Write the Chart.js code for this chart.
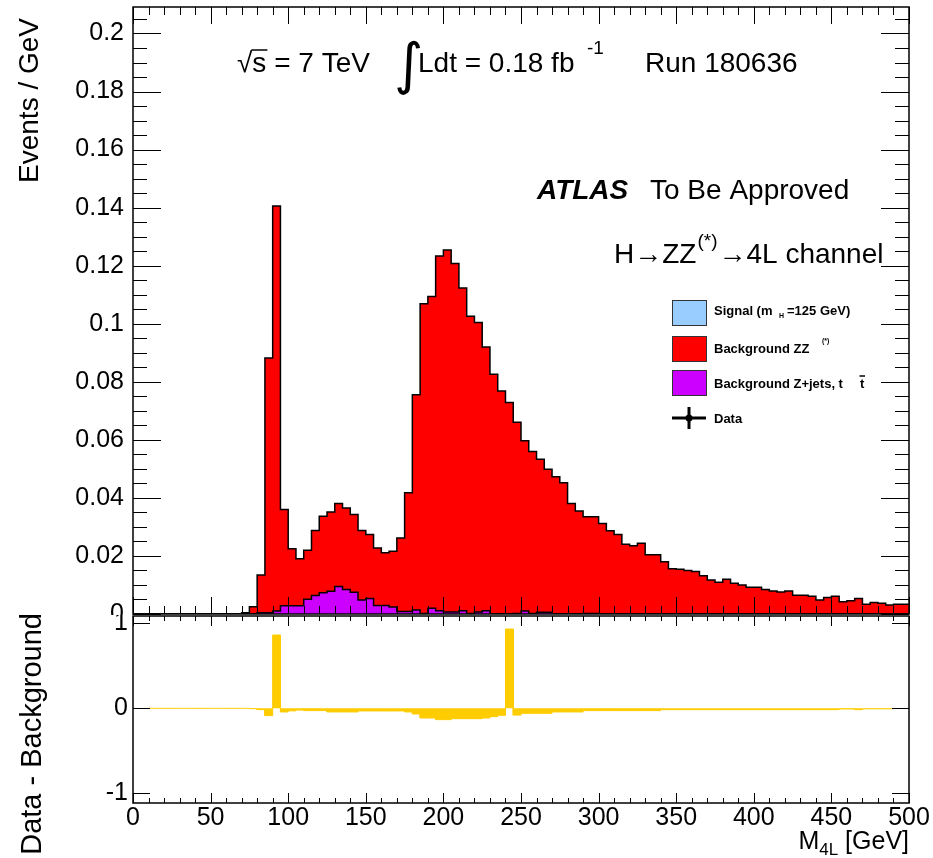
<!DOCTYPE html>
<html><head><meta charset="utf-8">
<script src="https://cdn.jsdelivr.net/npm/chart.js@4.4.1/dist/chart.umd.min.js"></script>
<style>
html,body{margin:0;padding:0;background:#fff;}
#wrap{position:relative;width:933px;height:858px;overflow:hidden;background:#fff}
#top{position:absolute;left:0;top:0;width:933px;height:615px}
#bot{position:absolute;left:0;top:615px;width:933px;height:243px}
canvas{display:block}
</style></head><body>
<div id="wrap">
<div id="top"><canvas id="c1" width="933" height="615"></canvas></div>
<div id="bot"><canvas id="c2" width="933" height="243"></canvas></div>
</div>
<script>
// ---------------- DATA ----------------
// M4L bin edges in GeV (5 GeV bins from 0 to 500)
const massBinEdges = Array.from({length: 101}, (_, i) => i * 5);

// Stack envelope: Background ZZ(*) stacked on Z+jets/ttbar (Events / GeV), one value per bin
const stackZZplusZjets = [
  0,0,0,0,0,0,0,0,0,0,
  0,0,0,0,0.0004,0.0025,0.0134,0.0882,0.1406,0.0360,
  0.0225,0.0190,0.0220,0.0288,0.0337,0.0351,0.0381,0.0365,0.0343,0.0288,
  0.0274,0.0227,0.0211,0.0216,0.0262,0.0418,0.0755,0.1069,0.1094,0.1233,
  0.1254,0.1208,0.1123,0.1026,0.1004,0.0920,0.0826,0.0768,0.0729,0.0661,
  0.0597,0.0560,0.0533,0.0499,0.0473,0.0452,0.0381,0.0355,0.0335,0.0335,
  0.0312,0.0287,0.0274,0.0240,0.0235,0.0244,0.0204,0.0204,0.0180,0.0156,
  0.0154,0.0150,0.0146,0.0132,0.0117,0.0109,0.0120,0.0106,0.0100,0.0092,
  0.0092,0.0084,0.0079,0.0076,0.0079,0.0065,0.0065,0.0061,0.0048,0.0057,
  0.0061,0.0042,0.0046,0.0053,0.0034,0.0040,0.0037,0.0031,0.0034,0.0034
];

// Background Z+jets, ttbar (Events / GeV)
const zjetsTtbar = [
  0,0,0,0,0,0,0,0,0,0,
  0,0,0,0,0,0,0.0004,0.0004,0.0010,0.0028,
  0.0028,0.0028,0.0051,0.0064,0.0073,0.0078,0.0095,0.0084,0.0075,0.0048,
  0.0053,0.0029,0.0029,0.0024,0.0009,0.0009,0.0014,0.0002,0.0020,0.0011,
  0.0007,0.0007,0.0011,0.0002,0.0007,0.0011,0,0.0001,0,0.0002,
  0.0010,0.0002,0.0006,0.0006,0,0,0.0001,0.0001,0.0002,0.0002,
  0,0,0,0,0,0,0,0,0,0,
  0,0,0,0,0,0,0,0,0,0,
  0,0,0,0,0,0,0,0,0,0,
  0,0,0,0,0,0,0,0,0,0
];

// Data - Background (lower panel)
const dataMinusBackground = [
  null,null,0,0,0,0,0,0,0,0,
  0,0,0,0,0,-0.004,-0.016,-0.086,0.862,-0.043,
  -0.030,-0.020,-0.027,-0.027,-0.027,-0.043,-0.043,-0.043,-0.043,-0.031,
  -0.031,-0.031,-0.031,-0.031,-0.031,-0.043,-0.067,-0.114,-0.114,-0.133,
  -0.133,-0.122,-0.122,-0.122,-0.122,-0.114,-0.098,-0.082,0.933,-0.080,
  -0.059,-0.059,-0.059,-0.059,-0.043,-0.043,-0.043,-0.043,-0.027,-0.027,
  -0.027,-0.027,-0.027,-0.027,-0.027,-0.027,-0.027,-0.027,-0.016,-0.016,
  -0.016,-0.016,-0.016,-0.016,-0.016,-0.016,-0.016,-0.016,-0.016,-0.016,
  -0.016,-0.016,-0.016,-0.016,-0.016,-0.016,-0.016,-0.016,-0.016,-0.016,
  -0.016,-0.008,-0.008,-0.016,-0.006,-0.006,-0.006,-0.006,null,null
];

// Tick labels
const xTickValues = [0,50,100,150,200,250,300,350,400,450,500];
const xTickLabels = ['0','50','100','150','200','250','300','350','400','450','500'];
const yTickValuesMain = [0,0.02,0.04,0.06,0.08,0.1,0.12,0.14,0.16,0.18,0.2];
const yTickLabelsMain = ['0','0.02','0.04','0.06','0.08','0.1','0.12','0.14','0.16','0.18','0.2'];
const yTickValuesRatio = [-1,0,1];
const yTickLabelsRatio = ['-1','0','1'];

// ---------------- HELPERS ----------------
const FONT = '"Liberation Sans", Arial, Helvetica, sans-serif';
function histPoints(values) {
  const pts = [];
  values.forEach((v, i) => {
    if (v === null) return;
    pts.push({x: massBinEdges[i], y: v});
    pts.push({x: massBinEdges[i + 1], y: v});
  });
  return pts;
}

function frameTicks(chart, o) {
  const {ctx, chartArea: a} = chart;
  const xs = chart.scales.x, ys = chart.scales.y;
  ctx.save();
  ctx.strokeStyle = '#000';
  ctx.lineWidth = 1;
  ctx.beginPath();
  const nX = Math.round((xs.max - xs.min) / o.xMinorStep);
  for (let k = 0; k <= nX; k++) {
    const v = xs.min + k * o.xMinorStep;
    const px = Math.round(xs.getPixelForValue(v)) + 0.5;
    const r = v / o.xMajorStep;
    const major = Math.abs(r - Math.round(r)) < 1e-6;
    const L = major ? o.xMajLen : o.xMinLen;
    ctx.moveTo(px, a.bottom); ctx.lineTo(px, a.bottom - L);
    ctx.moveTo(px, a.top); ctx.lineTo(px, a.top + L);
  }
  for (let v = o.yStart; v <= ys.max + 1e-9; v += o.yMinorStep) {
    const py = Math.round(ys.getPixelForValue(v)) + 0.5;
    const r = v / o.yMajorStep;
    const major = Math.abs(r - Math.round(r)) < 1e-6;
    const L = major ? o.yMajLen : o.yMinLen;
    ctx.moveTo(a.left, py); ctx.lineTo(a.left + L, py);
    ctx.moveTo(a.right, py); ctx.lineTo(a.right - L, py);
  }
  ctx.stroke();
  ctx.lineWidth = 1.5;
  ctx.strokeRect(a.left, a.top, a.right - a.left, a.bottom - a.top);
  ctx.restore();
}

// ---------------- TOP PANEL ----------------
const topDecor = {
  id: 'topDecor',
  afterDatasetsDraw(chart) {
    frameTicks(chart, {xMinorStep: 10, xMajorStep: 50, xMajLen: 17, xMinLen: 8,
                       yStart: 0, yMinorStep: 0.005, yMajorStep: 0.02, yMajLen: 28, yMinLen: 14});
  },
  afterDraw(chart) {
    const ctx = chart.ctx;
    ctx.save();
    ctx.fillStyle = '#000';
    ctx.strokeStyle = '#000';
    ctx.textBaseline = 'alphabetic';
    ctx.textAlign = 'left';
    // sqrt(s) = 7 TeV
    ctx.font = '28px ' + FONT;
    let x = 237;
    const by = 72;
    ctx.fillText('\u221A', x, by);
    const sx = x + ctx.measureText('\u221A').width;
    ctx.fillText('s', sx, by);
    const ws = ctx.measureText('s').width;
    ctx.lineWidth = 1.5;
    ctx.beginPath(); ctx.moveTo(sx - 1, by - 22); ctx.lineTo(sx + ws + 1, by - 22); ctx.stroke();
    ctx.fillText(' = 7 TeV', sx + ws, by);
    // integral
    ctx.font = '56px "DejaVu Sans", sans-serif';
    ctx.fillText('\u222B', 394, 83);
    ctx.font = '28px ' + FONT;
    ctx.fillText('Ldt = 0.18 fb', 418, by);
    ctx.font = '19px ' + FONT;
    ctx.fillText('-1', 587, 54);
    ctx.font = '28px ' + FONT;
    ctx.fillText('Run 180636', 645, by);
    // ATLAS To Be Approved
    ctx.font = 'italic bold 28px ' + FONT;
    ctx.fillText('ATLAS', 537, 199);
    ctx.font = '28px ' + FONT;
    ctx.fillText('To Be Approved', 650, 199);
    // H -> ZZ(*) -> 4L channel
    let hx = 614; const hy = 263;
    ctx.fillText('H\u2192ZZ', hx, hy);
    hx += ctx.measureText('H\u2192ZZ').width + 1;
    ctx.font = '19px ' + FONT;
    ctx.fillText('(*)', hx, 247);
    hx += ctx.measureText('(*)').width + 1;
    ctx.font = '28px ' + FONT;
    ctx.fillText('\u21924L channel', hx, hy);

    // Legend
    const bx = 672, bw = 34, bh = 25;
    const boxes = [[300, '#99ccff'], [336, '#ff0000'], [370, '#cc00ff']];
    ctx.lineWidth = 1;
    boxes.forEach(([yy, col]) => {
      ctx.fillStyle = col; ctx.fillRect(bx, yy, bw, bh);
      ctx.strokeStyle = '#333'; ctx.strokeRect(bx + 0.5, yy + 0.5, bw, bh);
    });
    ctx.fillStyle = '#000';
    ctx.font = 'bold 13px ' + FONT;
    ctx.fillText('Signal (m', 714, 315);
    ctx.font = 'bold 7px ' + FONT;
    ctx.fillText('H', 779, 318);
    ctx.font = 'bold 13px ' + FONT;
    ctx.fillText('=125 GeV)', 787, 315);
    ctx.fillText('Background ZZ', 714, 353);
    ctx.font = 'bold 7px ' + FONT;
    ctx.fillText('(*)', 822, 343);
    ctx.font = 'bold 13px ' + FONT;
    ctx.fillText('Background Z+jets, t', 714, 388);
    ctx.fillText('t', 860, 388);
    ctx.lineWidth = 1.5; ctx.strokeStyle = '#000';
    ctx.beginPath(); ctx.moveTo(859.5, 376); ctx.lineTo(865, 376); ctx.stroke();
    ctx.fillText('Data', 714, 423);
    ctx.lineWidth = 3;
    ctx.beginPath();
    ctx.moveTo(672, 418); ctx.lineTo(706, 418);
    ctx.moveTo(689, 407); ctx.lineTo(689, 429);
    ctx.stroke();
    ctx.beginPath(); ctx.arc(689, 418, 3.5, 0, Math.PI * 2); ctx.fill();

    // y title
    ctx.save();
    ctx.font = '28px ' + FONT;
    ctx.translate(38, 18);
    ctx.rotate(-Math.PI / 2);
    ctx.textAlign = 'right';
    ctx.fillText('Events / GeV', 0, 0);
    ctx.restore();
    ctx.restore();
  }
};

new Chart(document.getElementById('c1'), {
  type: 'line',
  data: {
    datasets: [
      {
        label: 'Background Z+jets, tt',
        data: histPoints(zjetsTtbar),
        borderColor: '#000', borderWidth: 1.5, backgroundColor: '#cc00ff',
        fill: 'origin', pointRadius: 0, tension: 0
      },
      {
        label: 'Background ZZ(*)',
        data: histPoints(stackZZplusZjets),
        borderColor: '#000', borderWidth: 1.5, backgroundColor: '#ff0000',
        fill: 'origin', pointRadius: 0, tension: 0
      }
    ]
  },
  options: {
    responsive: false, animation: false, events: [],
    layout: {padding: {left: 0, right: 24, top: 7, bottom: 1}, autoPadding: false},
    plugins: {legend: {display: false}, tooltip: {enabled: false}},
    scales: {
      x: {type: 'linear', min: 0, max: 500, display: false},
      y: {
        type: 'linear', min: 0, max: 0.20913,
        afterFit(s) { s.width = 133; s.paddingTop = 0; s.paddingBottom = 0; },
        afterBuildTicks(s) { s.ticks = yTickValuesMain.map(v => ({value: v})); },
        ticks: {
          callback: (v, i) => yTickLabelsMain[i], autoSkip: false,
          font: {family: FONT, size: 25}, color: '#000', padding: 9
        },
        grid: {display: false, drawTicks: false},
        border: {display: false}
      }
    }
  },
  plugins: [topDecor]
});

// ---------------- BOTTOM PANEL ----------------
const botDecor = {
  id: 'botDecor',
  afterDatasetsDraw(chart) {
    frameTicks(chart, {xMinorStep: 10, xMajorStep: 50, xMajLen: 10, xMinLen: 5,
                       yStart: -1, yMinorStep: 1, yMajorStep: 1, yMajLen: 17, yMinLen: 17});
  },
  afterDraw(chart) {
    const ctx = chart.ctx;
    ctx.save();
    ctx.fillStyle = '#000';
    ctx.textBaseline = 'alphabetic';
    // y title
    ctx.save();
    ctx.font = '29px ' + FONT;
    ctx.translate(41, -2);
    ctx.rotate(-Math.PI / 2);
    ctx.textAlign = 'right';
    ctx.fillText('Data - Background', 0, 0);
    ctx.restore();
    // x title  M_4L [GeV]
    ctx.textAlign = 'left';
    ctx.font = '25px ' + FONT;
    const wM = ctx.measureText('M').width;
    const wG = ctx.measureText(' [GeV]').width;
    ctx.font = '17px ' + FONT;
    const w4 = ctx.measureText('4L').width;
    let x0 = 909 - wM - w4 - wG;
    const by = 234;
    ctx.font = '25px ' + FONT;
    ctx.fillText('M', x0, by);
    ctx.font = '17px ' + FONT;
    ctx.fillText('4L', x0 + wM, by + 6);
    ctx.font = '25px ' + FONT;
    ctx.fillText(' [GeV]', x0 + wM + w4, by);
    ctx.restore();
  }
};

new Chart(document.getElementById('c2'), {
  type: 'line',
  data: {
    datasets: [{
      label: 'Data - Background',
      data: histPoints(dataMinusBackground),
      borderColor: '#ffcc00', borderWidth: 1, backgroundColor: '#ffcc00',
      fill: 'origin', pointRadius: 0, tension: 0
    }]
  },
  options: {
    responsive: false, animation: false, events: [],
    layout: {padding: {left: 0, right: 24, top: 1, bottom: 0}, autoPadding: false},
    plugins: {legend: {display: false}, tooltip: {enabled: false}},
    scales: {
      x: {
        type: 'linear', min: 0, max: 500, position: 'bottom',
        afterFit(s) { s.height = 55; s.paddingLeft = 0; s.paddingRight = 0; },
        afterBuildTicks(s) { s.ticks = xTickValues.map(v => ({value: v})); },
        ticks: {
          callback: (v, i) => xTickLabels[i], autoSkip: false, maxRotation: 0,
          font: {family: FONT, size: 25}, color: '#000', padding: 0
        },
        grid: {display: false, drawTicks: false},
        border: {display: false}
      },
      y: {
        type: 'linear', min: -1.114, max: 1.086,
        afterFit(s) { s.width = 133; s.paddingTop = 0; s.paddingBottom = 0; },
        afterBuildTicks(s) { s.ticks = yTickValuesRatio.map(v => ({value: v})); },
        ticks: {
          callback: (v, i) => yTickLabelsRatio[i], autoSkip: false,
          font: {family: FONT, size: 25}, color: '#000', padding: 5
        },
        grid: {display: false, drawTicks: false},
        border: {display: false}
      }
    }
  },
  plugins: [botDecor]
});
</script>
</body></html>
